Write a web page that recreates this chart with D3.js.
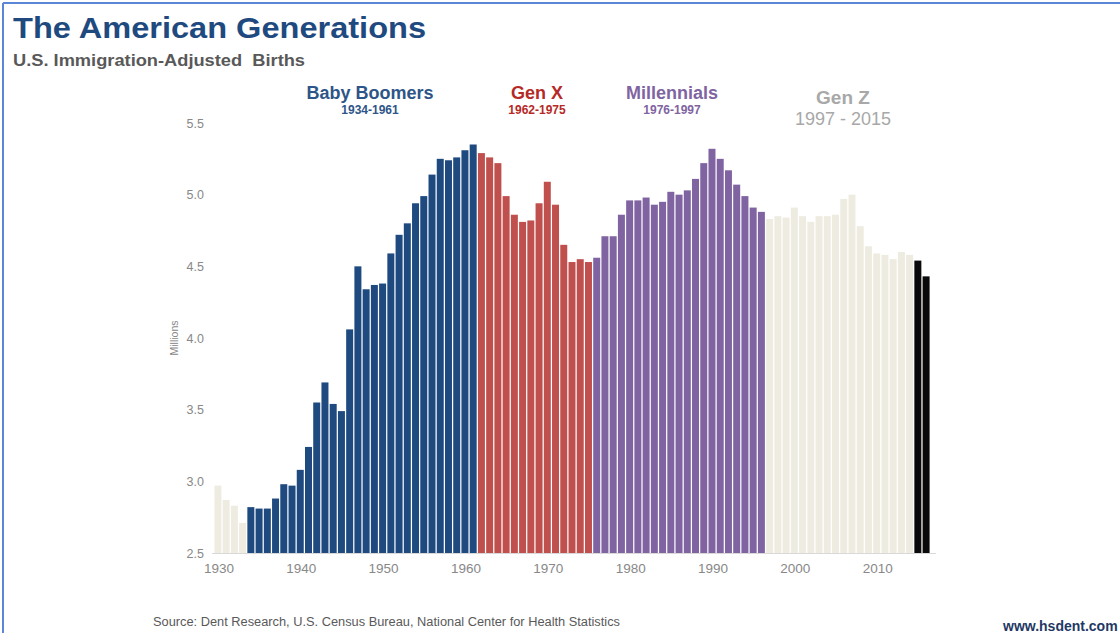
<!DOCTYPE html>
<html><head><meta charset="utf-8">
<script src="https://cdn.jsdelivr.net/npm/d3@7"></script>
<style>
html,body{margin:0;padding:0;background:#fff;}
svg{display:block;font-family:"Liberation Sans",Arial,sans-serif;}
</style></head>
<body>
<svg id="chart" width="1120" height="633"></svg>
<script>
// ---- data ----
const startYear = 1930;
const births = [
  2.97, 2.87, 2.83, 2.71,                                   // 1930-1933
  2.82, 2.81, 2.81, 2.88, 2.98, 2.97, 3.08, 3.24, 3.55, 3.69, // 1934-1943
  3.54, 3.49, 4.06, 4.50, 4.34, 4.37, 4.38, 4.59, 4.72, 4.80, // 1944-1953
  4.94, 4.99, 5.14, 5.25, 5.24, 5.26, 5.31, 5.35,             // 1954-1961
  5.29, 5.26, 5.22, 4.99, 4.86, 4.81, 4.82, 4.94, 5.09, 4.93, // 1962-1971
  4.65, 4.53, 4.55, 4.53,                                     // 1972-1975
  4.56, 4.71, 4.71, 4.86, 4.96, 4.96, 4.98, 4.93, 4.95, 5.02, // 1976-1985
  5.00, 5.03, 5.11, 5.22, 5.32, 5.25, 5.17, 5.07, 4.99, 4.91, // 1986-1995
  4.88,                                                       // 1996
  4.83, 4.85, 4.84, 4.91, 4.85, 4.81, 4.85, 4.85, 4.86, 4.97, // 1997-2006
  5.00, 4.78, 4.64, 4.59, 4.58, 4.55, 4.60, 4.58,             // 2007-2014
  4.54, 4.43                                                  // 2015-2016
];
const years = births.map((_, i) => startYear + i);
// colour segments: [first year, last year, colour key]
const segments = [
  [1930, 1933, "pre"], [1934, 1961, "boom"], [1962, 1975, "genx"],
  [1976, 1996, "mill"], [1997, 2014, "genz"], [2015, 2016, "recent"]
];
const generationNames = ["Baby Boomers", "Gen X", "Millennials", "Gen Z"];
const generationSpans = ["1934-1961", "1962-1975", "1976-1997", "1997 - 2015"];
const yTicks = [2.5, 3.0, 3.5, 4.0, 4.5, 5.0, 5.5];
const xTicks = [1930, 1940, 1950, 1960, 1970, 1980, 1990, 2000, 2010];

// ---- styles ----
const colors = {pre:"#eeece1", boom:"#1f4a80", genx:"#c0504d", mill:"#8064a2", genz:"#eeece1", recent:"#0a0a0a"};
const svg = d3.select("#chart");

// frame
svg.append("line").attr("x1",3).attr("x2",1120).attr("y1",3).attr("y2",3).attr("stroke","#5b87d6").attr("stroke-width",2);
svg.append("line").attr("x1",3).attr("x2",3).attr("y1",3).attr("y2",633).attr("stroke","#5b87d6").attr("stroke-width",2);

// titles
svg.append("text").attr("x",13).attr("y",38).text("The American Generations")
  .attr("font-size",30).attr("font-weight","bold").attr("fill","#1f4a80")
  .attr("textLength",413).attr("lengthAdjust","spacingAndGlyphs");
svg.append("text").attr("x",13).attr("y",66).text("U.S. Immigration-Adjusted\u00a0 Births")
  .attr("font-size",16).attr("font-weight","bold").attr("fill","#595959")
  .attr("textLength",292).attr("lengthAdjust","spacingAndGlyphs");

// scales
const x = d3.scaleBand().domain(years).range([214, 930]).paddingInner(0.15).paddingOuter(0.05);
const y = d3.scaleLinear().domain([2.5, 5.5]).range([553, 123]);

function colorOf(yr){
  const s = segments.find(s => yr >= s[0] && yr <= s[1]);
  return colors[s[2]];
}

// bars
svg.append("g").selectAll("rect").data(years).join("rect")
  .attr("x", d => x(d)).attr("width", x.bandwidth())
  .attr("y", (d,i) => y(births[i])).attr("height", (d,i) => y(2.5) - y(births[i]))
  .attr("fill", d => colorOf(d));

// baseline
svg.append("line").attr("x1",212).attr("x2",936).attr("y1",553.5).attr("y2",553.5)
  .attr("stroke","#d9d9d9").attr("stroke-width",1);

// y axis
const yAxis = svg.append("g").attr("transform","translate(204,0)")
  .call(d3.axisLeft(y).tickValues(yTicks).tickFormat(d3.format(".1f")).tickSize(0).tickPadding(0));
yAxis.select(".domain").remove();
yAxis.selectAll("text").attr("font-size",12.5).attr("fill","#888").attr("font-family","Liberation Sans, Arial, sans-serif");

svg.append("text").attr("transform","translate(178,338) rotate(-90)").attr("text-anchor","middle")
  .text("Millions").attr("font-size",10.5).attr("fill","#888");

// x axis
const xAxis = svg.append("g").attr("transform","translate(1,559)")
  .call(d3.axisBottom(x).tickValues(xTicks).tickSize(0).tickPadding(4));
xAxis.select(".domain").remove();
xAxis.selectAll("text").attr("font-size",13.5).attr("fill","#888").attr("font-family","Liberation Sans, Arial, sans-serif");

// generation labels
const genX = [370, 537, 672, 843];
const genColors = ["#2e5588", "#b52a26", "#8064a2", "#a8a8a8"];
const spanColors = ["#2e5588", "#b52a26", "#8064a2", "#a8a8a8"];
generationNames.forEach((n, i) => {
  svg.append("text").attr("x",genX[i]).attr("y", i === 3 ? 104 : 99).attr("text-anchor","middle")
    .text(n).attr("font-size", i === 3 ? 19 : 18).attr("font-weight", "bold").attr("fill", genColors[i]);
  svg.append("text").attr("x",genX[i]).attr("y", i === 3 ? 125 : 114).attr("text-anchor","middle")
    .text(generationSpans[i]).attr("font-size", i === 3 ? 18 : 12).attr("font-weight", i === 3 ? "normal" : "bold")
    .attr("fill", spanColors[i]);
});

// footer
svg.append("text").attr("x",153).attr("y",626).text("Source: Dent Research, U.S. Census Bureau, National Center for Health Statistics")
  .attr("font-size",12).attr("fill","#595959").attr("textLength",467).attr("lengthAdjust","spacingAndGlyphs");
svg.append("text").attr("x",1003).attr("y",631).text("www.hsdent.com")
  .attr("font-size",14).attr("font-weight","bold").attr("fill","#1f3864");
</script>
</body></html>
